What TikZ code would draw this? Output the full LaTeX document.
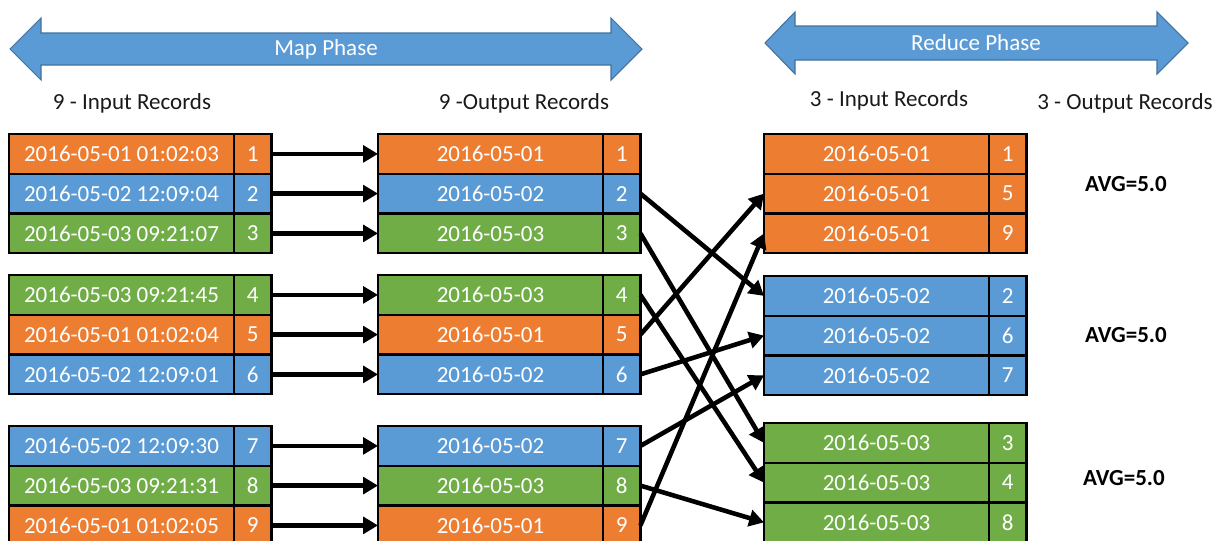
\documentclass[tikz,border=0pt]{standalone}
\usepackage{fontspec}
\setmainfont{Carlito}
\usepackage{tikz}
\usetikzlibrary{arrows.meta, positioning}

\definecolor{naranja}{HTML}{ED7D31}
\definecolor{azul}{HTML}{5B9BD5}
\definecolor{verde}{HTML}{70AD47}
\definecolor{borde}{HTML}{41719C}
\newcommand{\letra}{\fontsize{13.1}{15.7}\selectfont}

\begin{document}
\begin{tikzpicture}[x=0.02cm, y=-0.02cm, >={Triangle[length=8.4pt, width=9.4pt]}, font=\letra]
    % Definición de estilos para las celdas, las flechas y las fases
    \tikzstyle{celda} = [draw, line width=1.2pt, outer sep=0pt, inner sep=0pt, minimum height=0.795cm, text=white]
    \tikzstyle{fecha} = [celda, minimum width=4.5cm]
    \tikzstyle{numero} = [celda, minimum width=0.75cm]
    \tikzstyle{flecha} = [->, line width=2.6pt]
    \tikzstyle{fase} = [fill=azul, draw=borde, line width=0.6pt]
    \tikzstyle{titulo} = [text=black!90]

    \useasboundingbox (0,0) rectangle (1225,541);

    % Flechas de las fases Map y Reduce
    \draw[fase] (10,49) -- (41,18) -- (41,33) -- (611,33) -- (611,18) -- (642,49) -- (611,80) -- (611,65) -- (41,65) -- (41,80) -- cycle;
    \draw[fase] (765,43) -- (795,12) -- (795,26) -- (1157,26) -- (1157,12) -- (1188,43) -- (1157,74) -- (1157,60) -- (795,60) -- (795,74) -- cycle;
    \node[text=white] (map) at (326,49) {Map Phase};
    \node[text=white] (reduce) at (976,43) {Reduce Phase};

    % Títulos de las columnas
    \node[titulo] (tinmap) at (132,103) {9 - Input Records};
    \node[titulo] (toutmap) at (524,103) {9 -Output Records};
    \node[titulo] (tinred) at (889,100) {3 - Input Records};
    \node[titulo] (toutred) at (1125,103) {3 - Output Records};

    % Registros de entrada y de salida de la fase Map
    \foreach \i/\f/\d/\c/\y in {1/2016-05-01 01:02:03/2016-05-01/naranja/153.9, 2/2016-05-02 12:09:04/2016-05-02/azul/193.6, 3/2016-05-03 09:21:07/2016-05-03/verde/233.4,
                              4/2016-05-03 09:21:45/2016-05-03/verde/294.9, 5/2016-05-01 01:02:04/2016-05-01/naranja/334.6, 6/2016-05-02 12:09:01/2016-05-02/azul/374.4,
                              7/2016-05-02 12:09:30/2016-05-02/azul/445.9, 8/2016-05-03 09:21:31/2016-05-03/verde/485.6, 9/2016-05-01 01:02:05/2016-05-01/naranja/525.4} {
        \node[fecha, fill=\c, anchor=west] (in\i) at (9,\y) {\f};
        \node[numero, fill=\c, right=0pt of in\i] (nin\i) {\i};
        \node[fecha, fill=\c, anchor=west] (out\i) at (378,\y) {\d};
        \node[numero, fill=\c, right=0pt of out\i] (nout\i) {\i};
        \draw[flecha] (nin\i) -- (out\i);
    }

    % Registros de entrada de la fase Reduce, agrupados por fecha
    \foreach \i/\d/\c/\y in {1/2016-05-01/naranja/153.9, 5/2016-05-01/naranja/193.6, 9/2016-05-01/naranja/233.4,
                           2/2016-05-02/azul/295.9, 6/2016-05-02/azul/335.6, 7/2016-05-02/azul/375.4,
                           3/2016-05-03/verde/442.9, 4/2016-05-03/verde/482.6, 8/2016-05-03/verde/522.4} {
        \node[fecha, fill=\c, anchor=west] (red\i) at (764,\y) {\d};
        \node[numero, fill=\c, right=0pt of red\i] (nred\i) {\i};
    }

    % Resultados de la fase Reduce
    \node[font=\letra\bfseries] (avg1) at (1126,184) {AVG=5.0};
    \node[font=\letra\bfseries] (avg2) at (1126,335) {AVG=5.0};
    \node[font=\letra\bfseries] (avg3) at (1124,478) {AVG=5.0};

    % Conexiones del shuffle hacia los grupos
    \foreach \i in {2,...,9}
        \draw[flecha] (nout\i.east) -- (red\i.west);
\end{tikzpicture}
\end{document}
